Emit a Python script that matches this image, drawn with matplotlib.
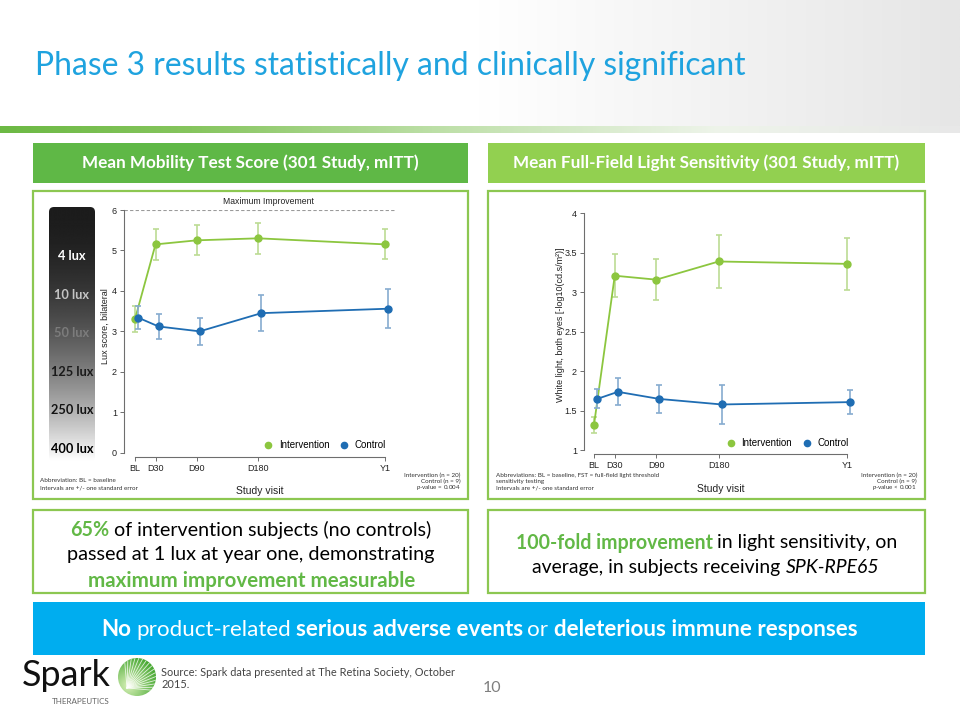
import numpy as np
import matplotlib
matplotlib.use("Agg")
import matplotlib.pyplot as plt
from matplotlib.patches import Rectangle, FancyBboxPatch, Circle
from matplotlib.lines import Line2D
from matplotlib.colors import to_rgb

plt.rcParams["mathtext.fontset"] = "custom"
plt.rcParams["mathtext.rm"] = "Lato"
plt.rcParams["mathtext.it"] = "Lato:italic"

# ---- data ----
visits = ["BL", "D30", "D90", "D180", "Y1"]
visit_days = [0, 30, 90, 180, 365]
ctrl_shift = 4.5  # control points are nudged right of each visit

mob_int = [3.30, 5.15, 5.25, 5.30, 5.15]
mob_int_se = [0.32, 0.38, 0.37, 0.38, 0.37]
mob_ctl = [3.34, 3.12, 3.00, 3.45, 3.56]
mob_ctl_se = [0.29, 0.31, 0.33, 0.45, 0.48]

fst_int = [1.32, 3.21, 3.16, 3.39, 3.36]
fst_int_se = [0.10, 0.27, 0.26, 0.33, 0.33]
fst_ctl = [1.65, 1.74, 1.65, 1.58, 1.61]
fst_ctl_se = [0.12, 0.17, 0.18, 0.25, 0.15]

mob_yticks = [0, 1, 2, 3, 4, 5, 6]
fst_yticks = [1, 1.5, 2, 2.5, 3, 3.5, 4]
lux_labels = ["4 lux", "10 lux", "50 lux", "125 lux", "250 lux", "400 lux"]

# ---- colours ----
C_INT = "#8cc63f"
C_INT_ERR = "#bcdc94"
C_CTL = "#1f6db3"
C_CTL_ERR = "#86acd0"
C_BORDER = "#8cc751"
C_TITLE = "#1fa3df"

W, H = 960, 720
fig = plt.figure(figsize=(W / 100, H / 100), dpi=100)
fig.patch.set_facecolor("white")

bg = fig.add_axes([0, 0, 1, 1])
bg.set_axis_off()
renderer = fig.canvas.get_renderer()


def px_rect(x0, y0, x1, y1):
    return [x0 / W, 1 - y1 / H, (x1 - x0) / W, (y1 - y0) / H]


def width_of(t):
    return t.get_window_extent(renderer=renderer).width


def fit_text(x, y, s, width, **kw):
    t = bg.text(x, y, s, fontsize=12, **kw)
    t.set_fontsize(12 * width / width_of(t))
    return t


def rich_line(xc, y, parts, width, color="#000000", family="Lato"):
    base = 12
    arts, ws = [], []
    for s, st in parts:
        t = bg.text(0, y, s, fontsize=base, family=family, ha="left",
                    va="center_baseline", color=st.get("color", color),
                    fontweight=st.get("weight", "normal"),
                    fontstyle=st.get("style", "normal"))
        arts.append(t)
        ws.append(width_of(t))
    a = bg.text(0, y, "n n", fontsize=base, family=family)
    b = bg.text(0, y, "nn", fontsize=base, family=family)
    gap = width_of(a) - width_of(b)
    a.remove(); b.remove()
    total = sum(ws) + gap * (len(parts) - 1)
    k = width / total
    x = xc - width / 2
    for t, w in zip(arts, ws):
        t.set_fontsize(base * k)
        t.set_x(x)
        x += (w + gap) * k


def hgrad(x0, x1, y0, y1, xs, cols):
    xx = np.linspace(0, 1, 400)
    rgb = np.array([to_rgb(c) for c in cols])
    img = np.stack([np.interp(xx, xs, rgb[:, i]) for i in range(3)], axis=-1)
    bg.imshow(img[None, :, :], extent=(x0, x1, y1, y0), aspect="auto",
              interpolation="bilinear", zorder=0)


# ---- slide background ----
hgrad(0, 960, 0, 126, [0, 0.5, 1], ["#ffffff", "#ffffff", "#e6e6e6"])
hgrad(0, 960, 126, 133, [0, 0.2, 0.45, 0.75, 1],
      ["#6cb944", "#86c55e", "#bcdfa6", "#eef4ea", "#e8e8e8"])

fit_text(35, 66, "Phase 3 results statistically and clinically significant", 711,
         family="Lato", color=C_TITLE, ha="left", va="center")

# header bars
bg.add_patch(Rectangle((33, 143), 435, 40, facecolor="#5fb846", edgecolor="none"))
bg.add_patch(Rectangle((488, 143), 437, 40, facecolor="#92d050", edgecolor="none"))
fit_text(250, 163, "Mean Mobility Test Score (301 Study, mITT)", 335,
         family="Lato", weight="bold", color="white", ha="center", va="center")
fit_text(706, 163, "Mean Full-Field Light Sensitivity (301 Study, mITT)", 384,
         family="Lato", weight="bold", color="white", ha="center", va="center")

# chart frames and text boxes
for x0, y0, x1, y1 in [(33, 191, 468, 499), (488, 191, 925, 499),
                       (33, 510, 468, 593), (488, 510, 925, 593)]:
    bg.add_patch(Rectangle((x0, y0), x1 - x0, y1 - y0, facecolor="white",
                           edgecolor=C_BORDER, linewidth=1.6, zorder=1))

# lux gradient bar
lux_box = FancyBboxPatch((49, 207), 46, 254, boxstyle="round,pad=0,rounding_size=5",
                         facecolor="none", edgecolor="none", zorder=2)
bg.add_patch(lux_box)
yy = np.linspace(0, 1, 300)
grey = 0.11 + 0.89 * yy ** 1.9
grad = np.repeat(grey[:, None], 2, axis=1)
im = bg.imshow(grad, extent=(49, 95, 461, 207), cmap="gray", vmin=0, vmax=1,
               aspect="auto", interpolation="bilinear", zorder=2)
im.set_clip_path(lux_box)
lux_cols = ["#ffffff", "#c4c4c4", "#7c7c7c", "#1a1a1a", "#141414", "#000000"]
for i, (lab, c) in enumerate(zip(lux_labels, lux_cols)):
    bg.text(72, 256 + i * 38.6, lab, family="Lato", weight="bold", fontsize=9.2,
            color=c, ha="center", va="center", zorder=3)


def draw_chart(ax, yi, yi_se, yc, yc_se, xlim, ylim, yticks):
    xc = [d + ctrl_shift for d in visit_days]
    ax.errorbar(visit_days, yi, yerr=yi_se, fmt="none", ecolor=C_INT_ERR,
                elinewidth=1.2, capsize=2.5, capthick=1.2, zorder=2)
    ax.plot(visit_days, yi, "-o", color=C_INT, lw=1.3, ms=5, zorder=3)
    ax.errorbar(xc, yc, yerr=yc_se, fmt="none", ecolor=C_CTL_ERR,
                elinewidth=1.2, capsize=2.5, capthick=1.2, zorder=4)
    ax.plot(xc, yc, "-o", color=C_CTL, lw=1.3, ms=5, zorder=5)
    ax.set_xlim(*xlim)
    ax.set_ylim(*ylim)
    ax.set_facecolor("none")
    for s in ("top", "right"):
        ax.spines[s].set_visible(False)
    ax.spines["left"].set_bounds(ylim[0], ylim[1])
    ax.spines["bottom"].set_bounds(visit_days[0], visit_days[-1])
    ax.spines["bottom"].set_position(("outward", 3))
    for s in ("left", "bottom"):
        ax.spines[s].set_color("#6e6e6e")
        ax.spines[s].set_linewidth(0.8)
    ax.set_xticks(visit_days)
    ax.set_xticklabels(visits)
    ax.set_yticks(yticks)
    ax.set_yticklabels([f"{v:g}" for v in yticks])
    ax.tick_params(length=3, width=0.7, color="#6e6e6e", labelsize=6.5,
                   labelcolor="#222222", pad=2)
    for lab in ax.get_xticklabels() + ax.get_yticklabels():
        lab.set_family("Liberation Sans")
    handles = [Line2D([], [], marker="o", ls="", color=C_INT, ms=4.5, label="Intervention"),
               Line2D([], [], marker="o", ls="", color=C_CTL, ms=4.5, label="Control")]
    ax.legend(handles=handles, ncol=2, frameon=False, loc="center",
              bbox_to_anchor=(0.728, 0.03), handletextpad=0.1, columnspacing=0.5,
              prop={"family": "Liberation Sans", "size": 7})
    ax.set_xlabel("Study visit", family="Liberation Sans", fontsize=7.5, color="#222222")
    for l in ax.lines:
        l.set_clip_on(False)


# left chart
ax1 = fig.add_axes(px_rect(124, 210, 396, 452.7))
draw_chart(ax1, mob_int, mob_int_se, mob_ctl, mob_ctl_se, (-16, 381), (0, 6), mob_yticks)
ax1.axhline(6, color="#9a9a9a", lw=0.8, ls=(0, (3, 2)), zorder=1)
ax1.set_ylabel("Lux score, bilateral", family="Liberation Sans", fontsize=6.5, color="#222222")
ax1.yaxis.set_label_coords(-0.052, 0.52)
ax1.xaxis.set_label_coords(0.5, -0.137)
fit_text(268, 202, "Maximum Improvement", 90, family="Liberation Sans",
         color="#222222", ha="center", va="center")

# right chart
ax2 = fig.add_axes(px_rect(584, 213.3, 860, 450.3))
draw_chart(ax2, fst_int, fst_int_se, fst_ctl, fst_ctl_se, (-14.4, 384), (1, 4), fst_yticks)
ax2.set_ylabel("White light, both eyes [-log10(cd.s/m²)]", family="Liberation Sans",
               fontsize=6.5, color="#222222")
ax2.yaxis.set_label_coords(-0.068, 0.53)
ax2.xaxis.set_label_coords(0.496, -0.142)

# footnotes
fn = dict(family="Lato", fontsize=4.5, color="#333333", va="center")
bg.text(40, 481, "Abbreviation: BL = baseline", ha="left", **fn)
bg.text(40, 487.7, "Intervals are +/- one standard error", ha="left", **fn)
for x, pv in [(460.5, "= 0.004"), (917, "< 0.001")]:
    bg.text(x, 475, "Intervention (n = 20)", ha="right", **fn)
    bg.text(x, 481.4, "Control (n = 9)", ha="right", **fn)
    bg.text(x, 488, "p", ha="right", **fn)
    t = bg.texts[-1]
    t.set_text(r"$\it{p}$-value " + pv)
bg.text(495.5, 475, "Abbreviations: BL = baseline, FST = full-field light threshold",
        ha="left", **fn)
bg.text(495.5, 481.3, "sensitivity testing", ha="left", **fn)
bg.text(495.5, 487.7, "Intervals are +/- one standard error", ha="left", **fn)

# callout text
G = {"color": "#62b846", "weight": "bold"}
N = {}
rich_line(250, 528, [("65%", G), ("of intervention subjects (no controls)", N)], 360)
rich_line(250, 553, [("passed at 1 lux at year one, demonstrating", N)], 366)
rich_line(250, 579, [("maximum improvement measurable", G)], 325)
rich_line(706, 541, [("100-fold improvement", G), ("in light sensitivity, on", N)], 381)
rich_line(706, 566, [("average, in subjects receiving", N), ("SPK-RPE65", {"style": "italic"})], 347)

# bottom banner
bg.add_patch(Rectangle((33, 602), 892, 53, facecolor="#00adef", edgecolor="none"))
B = {"weight": "bold"}
rich_line(478, 628, [("No", B), ("product-related", N), ("serious adverse events", B),
                     ("or", N), ("deleterious immune responses", B)], 754, color="white")

# logo
fit_text(22, 686, "Spark", 88, family="Lato", color="#111111", ha="left", va="baseline")
fit_text(52, 701, "THERAPEUTICS", 58, family="Lato", color="#666666", ha="left", va="center")
ball = Circle((137, 677), 19, facecolor="none", edgecolor="none")
bg.add_patch(ball)
gx, gy = np.meshgrid(np.linspace(-1, 1, 120), np.linspace(-1, 1, 120))
rr = np.hypot(gx + 0.45, gy - 0.45)
inner, outer = np.array(to_rgb("#d8f0b8")), np.array(to_rgb("#47a832"))
f = np.clip(rr / 1.6, 0, 1)[..., None]
ball_img = bg.imshow(inner * (1 - f) + outer * f, extent=(118, 156, 696, 658),
                     aspect="auto", interpolation="bilinear", zorder=2)
ball_img.set_clip_path(ball)
for ang in np.linspace(-5, 95, 16):
    a = np.deg2rad(ang)
    ln, = bg.plot([127, 127 + 40 * np.cos(a)], [688, 688 - 40 * np.sin(a)],
                  color="white", lw=0.6, alpha=0.8, zorder=3)
    ln.set_clip_path(ball)

src = fit_text(161, 673, "Source: Spark data presented at The Retina Society, October", 292,
               family="Lato", color="#444444", ha="left", va="center")
bg.text(161, 684, "2015.", family="Lato", color="#444444", ha="left", va="center",
        fontsize=src.get_fontsize())
bg.text(492, 688, "10", family="Lato", fontsize=11.5, color="#7f7f7f", ha="center", va="center")

bg.set_xlim(0, W)
bg.set_ylim(H, 0)

fig.savefig("out.png", dpi=100)
